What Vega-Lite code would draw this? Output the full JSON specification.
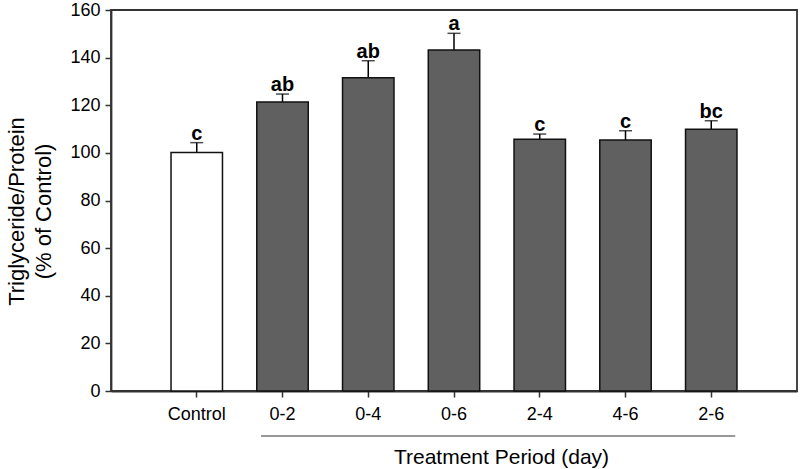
{
  "$schema": "https://vega.github.io/schema/vega-lite/v6.json",
  "autosize": {"type": "none"},
  "padding": {"left": 111, "top": 10, "right": 3, "bottom": 78},
  "width": 686,
  "height": 381,
  "background": "white",
  "config": {
    "font": "Liberation Sans",
    "view": {"stroke": "#333333", "strokeWidth": 1.8}
  },
  "datasets": {
    "bars": [
      {"period": "Control", "value": 100.2, "upper": 104.3, "letter": "c", "group": "control"},
      {"period": "0-2", "value": 121.4, "upper": 124.7, "letter": "ab", "group": "treat"},
      {"period": "0-4", "value": 131.5, "upper": 138.7, "letter": "ab", "group": "treat"},
      {"period": "0-6", "value": 143.2, "upper": 150.2, "letter": "a", "group": "treat"},
      {"period": "2-4", "value": 105.7, "upper": 107.9, "letter": "c", "group": "treat"},
      {"period": "4-6", "value": 105.4, "upper": 109.3, "letter": "c", "group": "treat"},
      {"period": "2-6", "value": 109.9, "upper": 113.5, "letter": "bc", "group": "treat"}
    ],
    "bracket": [
      {"lineStart": 1.75, "lineEnd": 7.28}
    ]
  },
  "layer": [
    {
      "data": {"name": "bars"},
      "layer": [
        {
          "mark": {"type": "rule", "color": "black", "strokeWidth": 1.5},
          "encoding": {
            "y": {"field": "value", "type": "quantitative"},
            "y2": {"field": "upper"}
          }
        },
        {
          "mark": {"type": "tick", "color": "black", "thickness": 1.5, "size": 13, "orient": "horizontal"},
          "encoding": {
            "y": {"field": "upper", "type": "quantitative"}
          }
        },
        {
          "mark": {"type": "bar", "stroke": "#111111", "strokeWidth": 1.5},
          "encoding": {
            "y": {"field": "value", "type": "quantitative"},
            "fill": {
              "field": "group",
              "type": "nominal",
              "scale": {"domain": ["control", "treat"], "range": ["#ffffff", "#606060"]},
              "legend": null
            }
          }
        },
        {
          "mark": {"type": "text", "fontSize": 20, "fontWeight": "bold", "color": "black", "baseline": "alphabetic", "dy": -3},
          "encoding": {
            "y": {"field": "upper", "type": "quantitative"},
            "text": {"field": "letter"}
          }
        }
      ],
      "encoding": {
        "x": {
          "field": "period",
          "type": "nominal",
          "sort": null,
          "scale": {"paddingInner": 0.4, "paddingOuter": 0.7},
          "axis": {
            "title": "Treatment Period (day)",
            "titleFontSize": 21,
            "titleFontWeight": "normal",
            "titleColor": "black",
            "titleX": 390,
            "titleY": 72,
            "titleAlign": "center",
            "titleBaseline": "alphabetic",
            "labelFontSize": 18,
            "labelColor": "black",
            "labelAngle": 0,
            "labelPadding": 8,
            "tickSize": 6,
            "tickColor": "#333333",
            "tickWidth": 1.5,
            "domainColor": "#333333",
            "domainWidth": 1.8
          }
        },
        "y": {
          "type": "quantitative",
          "scale": {"domain": [0, 160], "nice": false},
          "axis": {
            "title": ["Triglyceride/Protein", "(% of Control)"],
            "titleFontSize": 22,
            "titleFontWeight": "normal",
            "titleColor": "black",
            "titleLineHeight": 27,
            "titleAngle": 270,
            "titleAlign": "center",
            "titleBaseline": "bottom",
            "titleX": -83,
            "titleY": 201,
            "values": [0, 20, 40, 60, 80, 100, 120, 140, 160],
            "grid": false,
            "labelFontSize": 18,
            "labelColor": "black",
            "labelPadding": 5,
            "tickSize": 6,
            "tickColor": "#333333",
            "tickWidth": 1.5,
            "domainColor": "#333333",
            "domainWidth": 1.8
          }
        }
      }
    },
    {
      "data": {"name": "bracket"},
      "mark": {"type": "rule", "color": "#333333", "strokeWidth": 1.2, "clip": false},
      "encoding": {
        "x": {"field": "lineStart", "type": "quantitative", "scale": {"domain": [0, 8], "nice": false, "zero": false}, "axis": null},
        "x2": {"field": "lineEnd"},
        "y": {"value": 426}
      }
    }
  ],
  "resolve": {"scale": {"x": "independent"}}
}
